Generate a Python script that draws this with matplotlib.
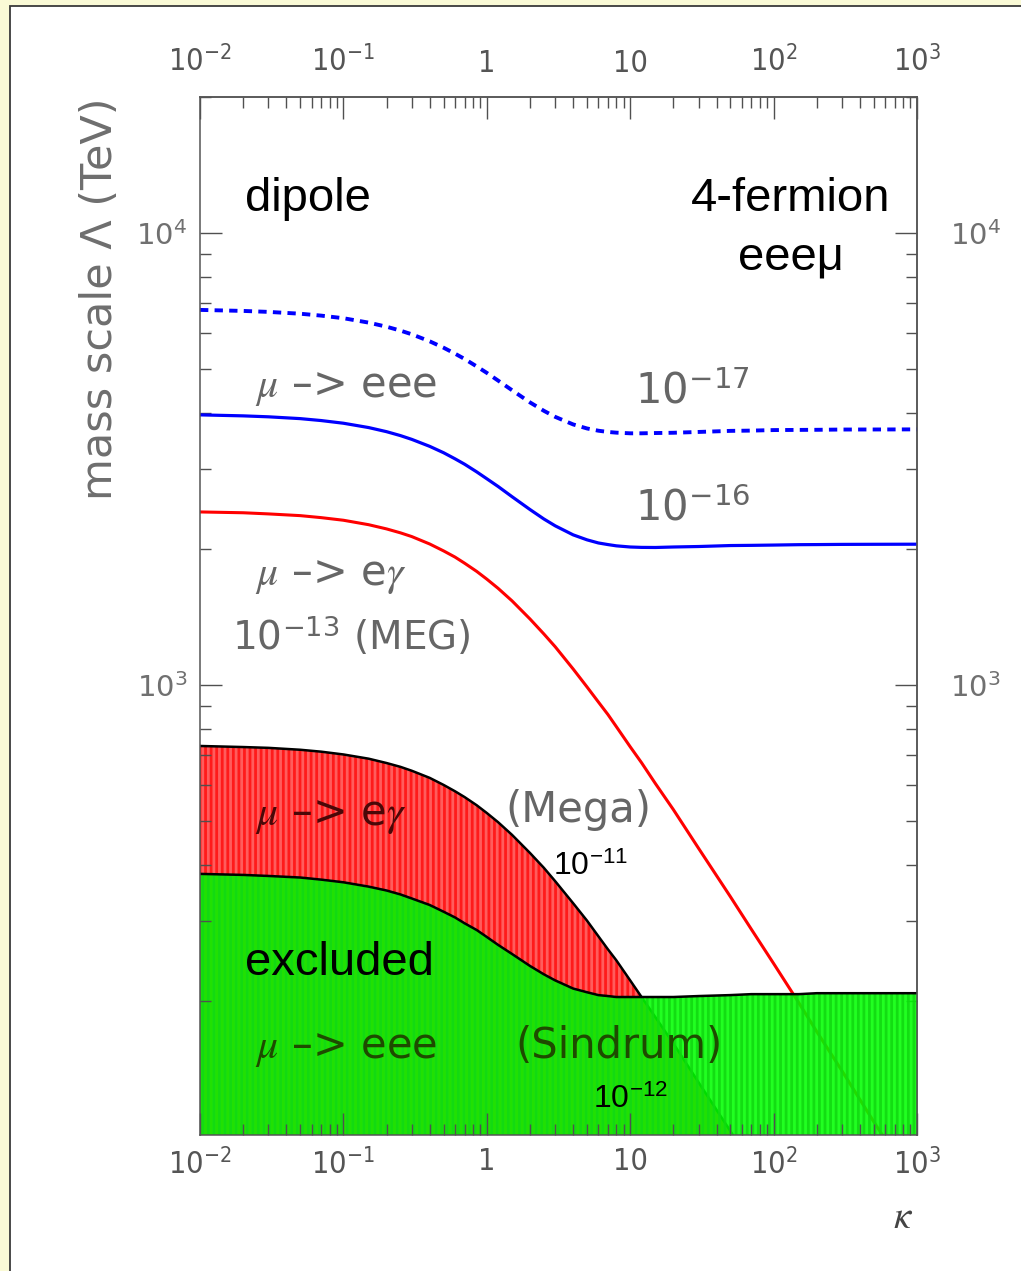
import matplotlib
matplotlib.use("Agg")
import matplotlib.pyplot as plt
from matplotlib import font_manager
from matplotlib.patches import Rectangle
from matplotlib.ticker import LogLocator, NullFormatter

# ---------------------------------------------------------------- data
# coupling ratio kappa (dipole -> 4-fermion)
kappa = [0.01, 0.02, 0.03, 0.05, 0.07, 0.1, 0.15, 0.2, 0.25, 0.3, 0.4, 0.5,
         0.6, 0.7, 0.85, 1, 1.2, 1.5, 2, 2.5, 3, 4, 5, 6, 7, 8, 10, 12, 15,
         20, 30, 50, 70, 100, 150, 200, 300, 500, 1000]

# mass scale Lambda (TeV) reachable for each branching ratio
meee_1e17 = [6760, 6725, 6692, 6630, 6566, 6480, 6336, 6205, 6083, 5970,
             5760, 5575, 5410, 5265, 5069, 4905, 4715, 4490, 4220, 4043,
             3920, 3772, 3695, 3653, 3630, 3617, 3605, 3605, 3610, 3615,
             3630, 3650, 3655, 3665, 3668, 3670, 3675, 3676, 3678]
meee_1e16 = [3960, 3940, 3921, 3885, 3847, 3795, 3712, 3635, 3563, 3495,
             3373, 3265, 3166, 3080, 2962, 2860, 2749, 2610, 2445, 2330,
             2250, 2149, 2095, 2062, 2045, 2032, 2020, 2016, 2015, 2020,
             2025, 2035, 2037, 2040, 2044, 2045, 2047, 2048, 2049]
meg_1e13 = [2415, 2405, 2391, 2370, 2346, 2315, 2263, 2215, 2171, 2130,
            2051, 1980, 1919, 1860, 1784, 1715, 1636, 1535, 1400, 1297,
            1215, 1085, 990, 917, 860, 809, 730, 673, 605, 530,
            435, 340, 288, 242, 198, 171, 140, 108, 77]
mega_1e11 = [733, 729, 726, 719, 712, 702, 687, 672, 659, 646,
             623, 601, 582, 565, 542, 521, 497, 466, 425, 394,
             368, 329, 301, 278, 260, 246, 222, 204, 184, 161,
             132, 103, 87, 73, 60, 52, 42, 33, 23]
sindrum_1e12 = [382, 380, 378, 375, 371, 366, 358, 351, 344, 337,
                326, 315, 306, 297, 287, 277, 266, 254, 239, 229,
                222, 213, 209, 206, 205, 204, 204, 204, 204, 204,
                205, 206, 207, 207, 207, 208, 208, 208, 208]

x_ticks = [0.01, 0.1, 1, 10, 100, 1000]
x_ticklabels = [r'$\mathregular{10^{-2}}$', r'$\mathregular{10^{-1}}$', '1', '10',
                r'$\mathregular{10^{2}}$', r'$\mathregular{10^{3}}$']
y_ticks = [1000, 10000]
y_ticklabels = [r'$\mathregular{10^{3}}$', r'$\mathregular{10^{4}}$']

# ---------------------------------------------------------------- fonts
fonts = font_manager.fontManager.ttflist
available = {f.name for f in fonts}


def pick(*names):
    for n in names:
        if n in available:
            return n
    return 'DejaVu Sans'


ARIAL = pick('Liberation Sans', 'Arimo')
GRAYF = 'DejaVu Sans'

# narrow face for the kappa tick labels
if 'Liberation Sans Narrow' in available:
    NARROW, NSTRETCH, tick_size = 'Liberation Sans Narrow', 'normal', 24
elif any(f.name == 'DejaVu Sans' and f.stretch == 'condensed' for f in fonts):
    NARROW, NSTRETCH, tick_size = 'DejaVu Sans', 'condensed', 22
else:
    NARROW, NSTRETCH, tick_size = ARIAL, 'normal', 21

plt.rcParams['mathtext.fontset'] = 'stix'
plt.rcParams['hatch.linewidth'] = 2.0
plt.rcParams['lines.scale_dashes'] = False

# ---------------------------------------------------------------- figure
W, H, DPI = 1021, 1271, 100
fig = plt.figure(figsize=(W / DPI, H / DPI), dpi=DPI, facecolor='#fafad6')
fig.add_artist(Rectangle((10 / W, -0.05), 1.2, (H - 6) / H + 0.05,
                         transform=fig.transFigure, facecolor='white',
                         edgecolor='#3a3a3a', linewidth=1.3, zorder=-5))

L, R, T, B = 200, 917, 97, 1135
ax = fig.add_axes([L / W, 1 - B / H, (R - L) / W, (B - T) / H])
ax.set_xscale('log')
ax.set_yscale('log')
ax.set_xlim(0.01, 1000)
ax.set_ylim(101, 20000)

# excluded regions
ax.fill_between(kappa, 1, mega_1e11, facecolor='#ff1a1a', edgecolor='#ff5c5c',
                hatch='|||', linewidth=0, zorder=1)
ax.plot(kappa, meg_1e13, color='#ff0000', lw=2.2, zorder=1.2)
ax.plot(kappa, mega_1e11, color='black', lw=1.8, zorder=1.3)
ax.fill_between(kappa, 1, sindrum_1e12, facecolor='#00ff00', edgecolor='#12d812',
                hatch='|||', linewidth=0, alpha=0.87, zorder=1.5)
ax.plot(kappa, sindrum_1e12, color='black', lw=1.8, zorder=1.6)

# mu -> eee sensitivity
ax.plot(kappa, meee_1e16, color='#0000ff', lw=2.3, zorder=2)
ax.plot(kappa, meee_1e17, color='#0000ff', lw=2.8, dashes=(6, 4.5), zorder=2)

# ---------------------------------------------------------------- axes styling
for sp in ax.spines.values():
    sp.set_color('#555555')
    sp.set_linewidth(1.1)


def style_ticks(a, axis, pad, lcolor, lsize, lfamily):
    a.tick_params(axis=axis, which='both', direction='in', color='#505050',
                  width=1.0, pad=pad, labelcolor=lcolor, labelsize=lsize,
                  labelfontfamily=lfamily)
    a.tick_params(axis=axis, which='major', length=16)
    a.tick_params(axis=axis, which='minor', length=8)


def log_minor():
    return LogLocator(base=10, subs=range(2, 10), numticks=30)


ax.set_xticks(x_ticks, labels=x_ticklabels)
ax.xaxis.set_minor_locator(log_minor())
ax.xaxis.set_minor_formatter(NullFormatter())
ax.set_yticks(y_ticks, labels=y_ticklabels)
ax.yaxis.set_minor_locator(log_minor())
ax.yaxis.set_minor_formatter(NullFormatter())
style_ticks(ax, 'x', 9, '#555555', tick_size, NARROW)
style_ticks(ax, 'y', 9, '#707070', 21, GRAYF)

top = ax.secondary_xaxis('top')
top.set_xticks(x_ticks, labels=x_ticklabels)
top.xaxis.set_minor_locator(log_minor())
top.xaxis.set_minor_formatter(NullFormatter())
style_ticks(top, 'x', 14, '#555555', tick_size, NARROW)

right = ax.secondary_yaxis('right')
right.set_yticks(y_ticks, labels=y_ticklabels)
right.yaxis.set_minor_locator(log_minor())
right.yaxis.set_minor_formatter(NullFormatter())
style_ticks(right, 'y', 24, '#707070', 21, GRAYF)
for a in (top, right):
    for sp in a.spines.values():
        sp.set_color('#555555')
        sp.set_linewidth(1.1)

for lbl in ax.get_xticklabels() + top.get_xticklabels():
    lbl.set_fontstretch(NSTRETCH)


# ---------------------------------------------------------------- text
def ftext(x, y, s, **kw):
    kw.setdefault('va', 'baseline')
    kw.setdefault('ha', 'left')
    fig.text(x / W, 1 - y / H, s, **kw)


ftext(100, 97, 'mass scale Λ (TeV)', rotation=90, ha='center', va='top',
      fontsize=31, color='#6e6e6e', family=GRAYF)
ftext(903, 1228, r'$\kappa$', ha='center', fontsize=28, color='#444444')

black = dict(family=ARIAL, color='black', fontsize=34)
ftext(245, 211, 'dipole', **black)
ftext(890, 211, '4-fermion', ha='right', **black)
ftext(791, 270, 'eeeμ', ha='center', **black)
ftext(245, 975, 'excluded', **black)
ftext(553, 875, r'10$^{\mathregular{-11}}$', family=ARIAL, color='black', fontsize=23)
ftext(593, 1108, r'10$^{\mathregular{-12}}$', family=ARIAL, color='black', fontsize=23)

gray = dict(family=GRAYF, color='#666666', fontsize=30)
ftext(255, 397, r'$\mu$ –> eee', **gray)
ftext(635, 403, r'10$^{\mathregular{-17}}$', **gray)
ftext(635, 520, r'10$^{\mathregular{-16}}$', **gray)
ftext(255, 585, r'$\mu$ –> e$\gamma$', **gray)
ftext(232, 650, r'10$^{\mathregular{-13}}$ (MEG)', family=GRAYF, color='#666666',
      fontsize=28)
ftext(505, 822, '(Mega)', **gray)
ftext(255, 825, r'$\mu$ –> e$\gamma$', family=GRAYF, color='#4a0808', fontsize=30)
ftext(255, 1058, r'$\mu$ –> eee', family=GRAYF, color='#1e4a00', fontsize=30)
ftext(515, 1058, '(Sindrum)', family=GRAYF, color='#1e4a00', fontsize=30)

fig.savefig('out.png', dpi=DPI, facecolor=fig.get_facecolor())
